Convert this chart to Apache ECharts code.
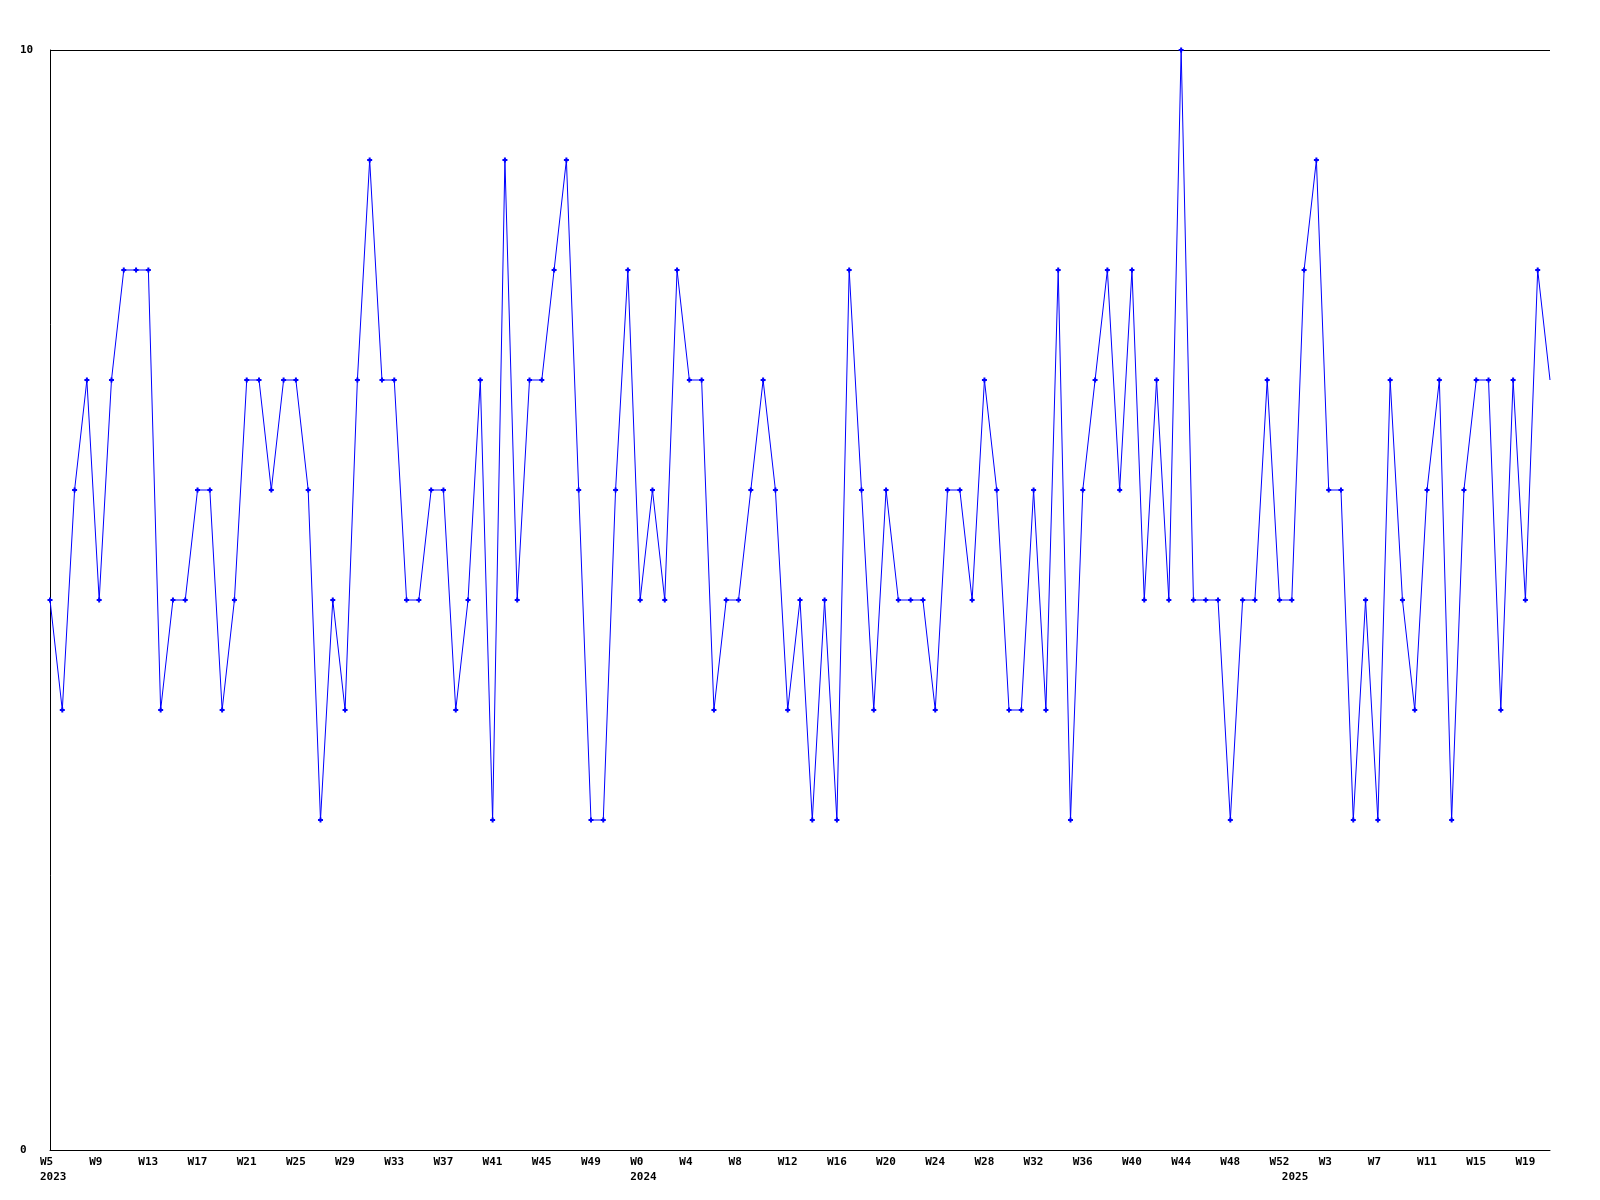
<!DOCTYPE html>
<html>
<head>
<meta charset="utf-8">
<script src="https://cdn.jsdelivr.net/npm/echarts@6/dist/echarts.min.js"></script>
<style>
html,body{margin:0;padding:0;background:#fff;}
#chart{width:1600px;height:1200px;}
</style>
</head>
<body>
<div id="chart"></div>
<script>
// Week ranges per year (first week, last week)
const yearList = [2023, 2024, 2025];
const firstWeek = [5, 0, 0];
const lastWeek = [52, 52, 21];

// Values, one per week, W5 2023 .. W21 2025
const values = [
  5,4,6,7,5,7,8,8,8,4,5,5,6,6,4,5,7,7,6,7,7,6,3,5,4,
  7,9,7,7,5,5,6,6,4,5,7,3,9,5,7,7,8,9,6,3,3,6,8,5,
  6,5,8,7,7,4,5,5,6,7,6,4,5,3,5,3,8,6,4,6,5,5,5,4,6,
  6,5,7,6,4,4,6,4,8,3,6,7,8,6,8,5,7,5,10,5,5,5,3,5,
  5,7,5,5,8,9,6,6,3,5,3,7,5,4,6,7,3,6,7,7,4,7,5,8,7
];

const yTicks = [0, 10];

const categories = [];
const catYears = [];
const yearStart = {};
yearList.forEach((y, i) => {
  yearStart[categories.length] = y;
  for (let w = firstWeek[i]; w <= lastWeek[i]; w++) {
    categories.push('W' + w);
    catYears.push(y);
  }
});

const labelFont = {
  fontFamily: 'DejaVu Sans Mono',
  fontWeight: 'bold',
  fontSize: 11,
  color: '#000'
};

const chart = echarts.init(document.getElementById('chart'), null, {renderer: 'canvas'});
chart.setOption({
  animation: false,
  backgroundColor: '#fff',
  grid: {left: 50, right: 50, top: 50, bottom: 50, containLabel: false},
  xAxis: [{
    type: 'category',
    data: categories,
    boundaryGap: false,
    axisLine: {show: true, lineStyle: {color: '#000', width: 1}},
    axisTick: {show: false},
    splitLine: {show: false},
    axisLabel: Object.assign({}, labelFont, {
      interval: 3,
      align: 'left',
      margin: 5,
      lineHeight: 15,
      padding: [0, 0, 0, -10]
    })
  }, {
    type: 'category',
    data: categories,
    position: 'bottom',
    boundaryGap: false,
    axisLine: {show: false},
    axisTick: {show: false},
    splitLine: {show: false},
    axisLabel: Object.assign({}, labelFont, {
      interval: function (idx) { return yearStart[idx] !== undefined; },
      align: 'left',
      margin: 20,
      lineHeight: 15,
      padding: [0, 0, 0, -10],
      formatter: function (val, idx) { return String(yearStart[idx]); }
    })
  }],
  yAxis: {
    type: 'value',
    min: yTicks[0],
    max: yTicks[1],
    interval: yTicks[1] - yTicks[0],
    axisLine: {show: true, lineStyle: {color: '#000', width: 1}},
    axisTick: {show: false},
    splitLine: {show: true, lineStyle: {color: '#000', width: 1}},
    axisLabel: Object.assign({}, labelFont, {
      align: 'left',
      margin: 30
    })
  },
  series: [{
    type: 'line',
    xAxisIndex: 0,
    data: values.map((v, i) => i === values.length - 1 ? {value: v, symbol: 'none'} : v),
    symbol: 'path://M1.5,0H3.5V1.5H5V3.5H3.5V5H1.5V3.5H0V1.5H1.5Z',
    symbolSize: 5,
    showAllSymbol: true,
    clip: false,
    lineStyle: {color: '#0000ff', width: 1},
    itemStyle: {color: '#0000ff'}
  }]
});
</script>
</body>
</html>
